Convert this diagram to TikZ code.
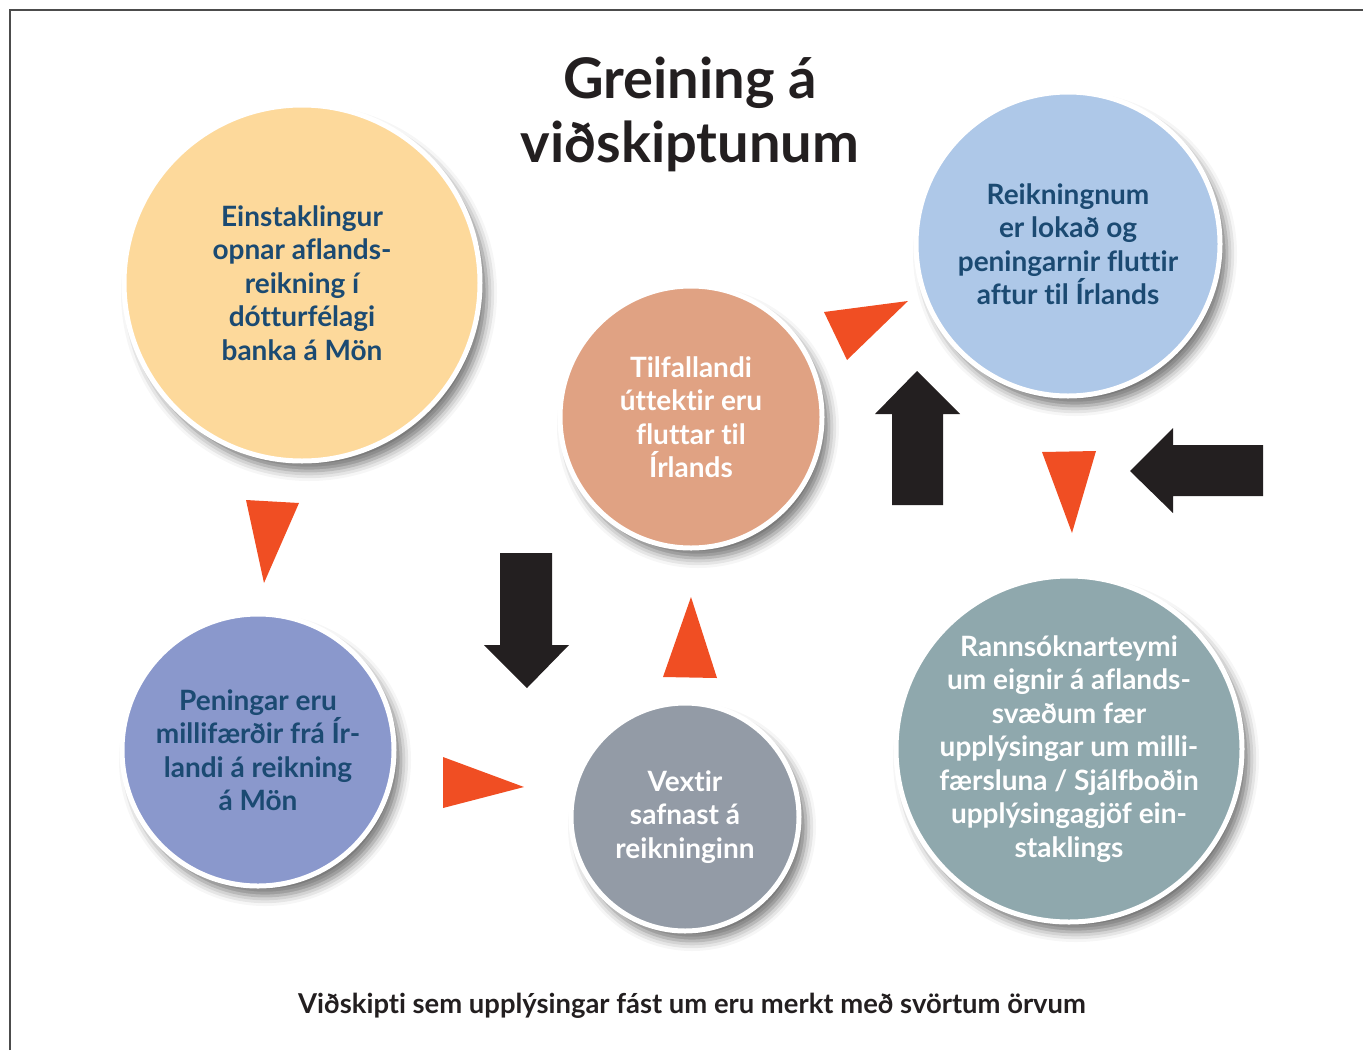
\documentclass[tikz,border=0pt]{standalone}
\usepackage{fontspec}
\setmainfont{Lato}[Ligatures=NoCommon]
\usetikzlibrary{shadows.blur}
\definecolor{cyel}{HTML}{FDD99B}
\definecolor{cblue}{HTML}{AEC8E8}
\definecolor{csal}{HTML}{E0A283}
\definecolor{cpur}{HTML}{8A98CC}
\definecolor{cgrey}{HTML}{939BA6}
\definecolor{cteal}{HTML}{8FA8AD}
\definecolor{ctxt}{HTML}{1B4A72}
\definecolor{corange}{HTML}{F04E23}
\definecolor{cblack}{HTML}{231F20}
\begin{document}
\begin{tikzpicture}[x=1pt,y=-1pt,
  bubble/.style={circle, draw=white, line width=5pt, inner sep=0pt, align=center,
    font=\bfseries\fontsize{28}{33.5}\selectfont,
    blur shadow={shadow xshift=7pt, shadow yshift=-10pt, shadow blur radius=10pt, shadow opacity=55}},
  darktext/.style={text=ctxt},
  lighttext/.style={text=white},
  tri/.style={fill=corange, draw=none},
  blockarrow/.style={fill=cblack, draw=none},
  frameline/.style={draw=black!70, line width=1.2pt}]
\useasboundingbox (0,0) rectangle (1363,1050);
\draw[frameline] (10,1050) -- (10,10) -- (1363,10);

\node[font=\bfseries\fontsize{56}{64}\selectfont, text=cblack, align=center] (title) at (690,114) {Greining á\\viðskiptunum};

\node[bubble, darktext, fill=cyel, minimum size=356pt] (c1) at (302,283)
  {Einstaklingur\\opnar aflands-\\reikning í\\dótturfélagi\\banka á Mön};
\node[bubble, darktext, fill=cblue, minimum size=304pt] (c2) at (1068,244)
  {Reikningnum\\er lokað og\\peningarnir fluttir\\aftur til Írlands};
\node[bubble, lighttext, fill=csal, minimum size=262pt] (c3) at (691,417)
  {Tilfallandi\\úttektir eru\\fluttar til\\Írlands};
\node[bubble, darktext, fill=cpur, minimum size=272pt] (c4) at (258,750)
  {Peningar eru\\millifærðir frá Ír-\\landi á reikning\\á Mön};
\node[bubble, lighttext, fill=cgrey, minimum size=228pt] (c5) at (685,817)
  {Vextir\\safnast á\\reikninginn};
\node[bubble, lighttext, fill=cteal, minimum size=346pt] (c6) at (1069,749)
  {Rannsóknarteymi\\um eignir á aflands-\\svæðum fær\\upplýsingar um milli-\\færsluna / Sjálfboðin\\upplýsingagjöf ein-\\staklings};

% orange triangles
\fill[tri] (246,500) -- (299,503) -- (264,583) -- cycle;
\fill[tri] (443,757) -- (443,808) -- (524,787) -- cycle;
\fill[tri] (691,597) -- (717,678) -- (663,677) -- cycle;
\fill[tri] (824,312) -- (908,301) -- (847,360) -- cycle;
\fill[tri] (1042,452) -- (1096,451) -- (1072,533) -- cycle;

% black block arrows
\fill[blockarrow] (500,553) -- (552,553) -- (552,645) -- (569,645) -- (527,688) -- (484,645) -- (500,645) -- cycle;
\fill[blockarrow] (892,505) -- (943,505) -- (943,414) -- (960,414) -- (917,371) -- (875,414) -- (892,414) -- cycle;
\fill[blockarrow] (1263,445) -- (1173,445) -- (1173,428) -- (1130,471) -- (1173,513) -- (1173,496) -- (1263,496) -- cycle;

\node[font=\bfseries\fontsize{27.4}{30}\selectfont, text=cblack] (caption) at (692,1006)
  {Viðskipti sem upplýsingar fást um eru merkt með svörtum örvum};
\end{tikzpicture}
\end{document}
